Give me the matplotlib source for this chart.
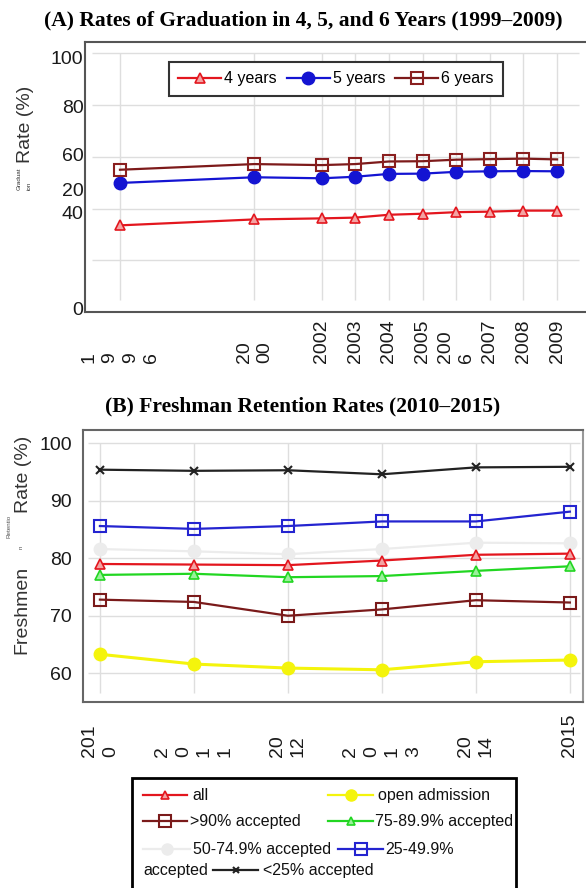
import matplotlib
matplotlib.use("Agg")
import matplotlib.pyplot as plt
from matplotlib.lines import Line2D
from matplotlib.patches import Rectangle

# ---- data ----
grad_years = [1996, 2000, 2002, 2003, 2004, 2005, 2006, 2007, 2008, 2009]
grad_year_labels = ["1\n9\n9\n6", "20\n00", "2002", "2003", "2004", "2005",
                    "200\n6", "2007", "2008", "2009"]
four_years = [33.5, 35.8, 36.2, 36.5, 37.6, 38.0, 38.6, 38.8, 39.2, 39.2]
five_years = [49.9, 52.1, 51.7, 52.3, 53.4, 53.5, 54.2, 54.4, 54.5, 54.4]
six_years = [55.0, 57.2, 56.8, 57.2, 58.2, 58.3, 58.9, 59.1, 59.3, 59.0]
grad_grid = [20, 40, 60, 80, 100]
# the y labels sit where the reference drew them (the "20" is out of place)
grad_ytick_pos = [1.5, 38.5, 47.5, 61, 79.5, 98.5]
grad_ytick_labels = ["0", "40", "20", "60", "80", "100"]

ret_years = [2010, 2011, 2012, 2013, 2014, 2015]
ret_year_labels = ["201\n0", "2\n0\n1\n1", "20\n12", "2\n0\n1\n3", "20\n14", "2015"]
ret_all = [79.0, 78.9, 78.8, 79.6, 80.6, 80.8]
ret_open = [63.3, 61.6, 60.9, 60.6, 62.0, 62.3]
ret_gt90 = [72.8, 72.4, 70.0, 71.1, 72.7, 72.3]
ret_75_89 = [77.1, 77.3, 76.7, 76.9, 77.8, 78.6]
ret_50_74 = [81.6, 81.2, 80.7, 81.6, 82.7, 82.6]
ret_25_49 = [85.6, 85.1, 85.6, 86.4, 86.4, 88.1]
ret_lt25 = [95.4, 95.2, 95.3, 94.6, 95.8, 95.9]
ret_grid = [60, 70, 80, 90, 100]

W, H = 586, 888


def fx(px):
    return px / W


def fy(py):
    return 1 - py / H


SANS = ["Liberation Sans", "DejaVu Sans"]
plt.rcParams["font.family"] = SANS

fig = plt.figure(figsize=(W / 100, H / 100), dpi=100)
fig.patch.set_facecolor("white")

# ---------------- panel A ----------------
axA = fig.add_axes([fx(85), fy(312), (W - 85) / W, (312 - 42) / H])
axA.set_xlim(1994.96, 2009.86)
axA.set_ylim(0, 104.4)
axA.hlines(grad_grid, 1995.17, 2009.64, color="#dedede", lw=1, zorder=0)
axA.vlines(grad_years, 4.6, 100, color="#dedede", lw=1, zorder=0)

styA = {
    "4 years": dict(color="#e3161e", marker="^", ms=7, mfc="#f3a3a3", mec="#e3161e", mew=1.2),
    "5 years": dict(color="#1414d2", marker="o", ms=9, mfc="#1414d2", mec="#1414d2"),
    "6 years": dict(color="#7d1a1a", marker="s", ms=9, mfc="none", mec="#8a1f1f", mew=1.5),
}
for name, vals in [("4 years", four_years), ("5 years", five_years), ("6 years", six_years)]:
    axA.plot(grad_years, vals, lw=1.6, label=name, **styA[name])

axA.set_yticks(grad_ytick_pos, grad_ytick_labels)
axA.set_xticks([])
axA.tick_params(axis="y", length=0, pad=1, labelsize=14, labelcolor="#1a1a1a")
for side in ["left", "bottom", "top"]:
    axA.spines[side].set_color("#555")
    axA.spines[side].set_linewidth(1.5)
axA.spines["right"].set_visible(False)
for yr, lab in zip(grad_years, grad_year_labels):
    axA.text(yr, -0.189, lab, transform=axA.get_xaxis_transform(), rotation=90,
             ha="center", va="bottom", multialignment="left", fontsize=14,
             linespacing=1.3, color="#1a1a1a")

legA = axA.legend(loc="center", bbox_to_anchor=(fx(336), fy(79)),
                  bbox_transform=fig.transFigure, ncol=3, fontsize=11.5,
                  handlelength=2.7, handletextpad=0.2, columnspacing=0.6,
                  borderpad=0.6, fancybox=False, framealpha=1, edgecolor="#333")
legA.get_frame().set_linewidth(1.5)

fig.text(fx(303), fy(20), "(A) Rates of Graduation in 4, 5, and 6 Years (1999\u20132009)",
         ha="center", va="center", fontfamily="Liberation Serif", fontweight="bold",
         fontsize=15.5)
fig.text(fx(25), fy(124), "Rate (%)", rotation=90, ha="center", va="center",
         fontsize=14, color="#333")
fig.text(fx(24), fy(179), "Graduat\nion", rotation=90, ha="center", va="center",
         fontsize=4.5, linespacing=2.2, multialignment="left", color="#333")

# ---------------- panel B ----------------
axB = fig.add_axes([fx(83), fy(702), (583 - 83) / W, (702 - 430) / H])
axB.set_xlim(2009.82, 2015.14)
axB.set_ylim(55.0, 102.3)
axB.hlines(ret_grid, 2009.873, 2015.107, color="#dedede", lw=1, zorder=0)
axB.vlines(ret_years, 56.5, 100, color="#dedede", lw=1, zorder=0)

styB = {
    "all": dict(color="#e3161e", marker="^", ms=7, mfc="#f3a3a3", mec="#e3161e", mew=1.2),
    "open admission": dict(color="#f4f40c", marker="o", ms=9, mfc="#f4f40c", mec="#f4f40c"),
    ">90% accepted": dict(color="#7a1a1a", marker="s", ms=9, mfc="none", mec="#7a1a1a", mew=1.5),
    "75-89.9% accepted": dict(color="#22d622", marker="^", ms=7, mfc="#9af09a", mec="#22d622", mew=1.2),
    "50-74.9% accepted": dict(color="#ececec", marker="o", ms=9, mfc="#ececec", mec="#ececec"),
    "25-49.9% accepted": dict(color="#2424d0", marker="s", ms=9, mfc="none", mec="#2424d0", mew=1.5),
    "<25% accepted": dict(color="#222222", marker="x", ms=6, mec="#222222", mew=1.5),
}
seriesB = [("50-74.9% accepted", ret_50_74), ("open admission", ret_open),
           (">90% accepted", ret_gt90), ("75-89.9% accepted", ret_75_89),
           ("all", ret_all), ("25-49.9% accepted", ret_25_49), ("<25% accepted", ret_lt25)]
for name, vals in seriesB:
    lw = 2.2 if name == "open admission" else 1.6
    axB.plot(ret_years, vals, lw=lw, **styB[name])

axB.set_yticks(ret_grid)
axB.set_xticks([])
axB.tick_params(axis="y", length=0, pad=8, labelsize=14, labelcolor="#1a1a1a")
for side in ["left", "bottom", "top", "right"]:
    axB.spines[side].set_color("#666")
    axB.spines[side].set_linewidth(1.5)
axB.spines["right"].set_color("#999")
for yr, lab in zip(ret_years, ret_year_labels):
    axB.text(yr, -0.202, lab, transform=axB.get_xaxis_transform(), rotation=90,
             ha="center", va="bottom", multialignment="left", fontsize=14,
             linespacing=1.3, color="#1a1a1a")

fig.text(fx(303), fy(406), "(B) Freshman Retention Rates (2010\u20132015)",
         ha="center", va="center", fontfamily="Liberation Serif", fontweight="bold",
         fontsize=15.5)
fig.text(fx(23), fy(474), "Rate (%)", rotation=90, ha="center", va="center",
         fontsize=14, color="#333")
fig.text(fx(22), fy(610), "Freshmen", rotation=90, ha="center", va="center",
         fontsize=14, color="#333")
fig.text(fx(9), fy(526), "Retentio", rotation=90, ha="center", va="center",
         fontsize=4.5, color="#555")
fig.text(fx(21), fy(547), "n", rotation=90, ha="center", va="center",
         fontsize=4.5, color="#555")

# legend of panel B, laid out like the wrapped legend in the reference
fig.add_artist(Rectangle((fx(132), fy(900)), (516 - 132) / W, (900 - 778) / H,
                         transform=fig.transFigure, fill=True, facecolor="white",
                         edgecolor="black", lw=2, clip_on=False))
legend_rows = [795, 821, 849, 870]
legend_items = [
    ("all", "all", 143, 187, 192, 0),
    ("open admission", "open admission", 328, 373, 378, 0),
    (">90% accepted", ">90% accepted", 143, 187, 190, 1),
    ("75-89.9% accepted", "75-89.9% accepted", 328, 373, 375, 1),
    ("50-74.9% accepted", "50-74.9% accepted", 143, 190, 193, 2),
    ("25-49.9% accepted", "25-49.9%", 338, 383, 385, 2),
    ("<25% accepted", "<25% accepted", 213, 258, 263, 3),
]
for key, text, x0, x1, tx, row in legend_items:
    st = dict(styB[key])
    col = st.pop("color")
    yy = fy(legend_rows[row])
    fig.add_artist(Line2D([fx(x0), fx(x1)], [yy, yy], color=col, lw=1.6,
                          transform=fig.transFigure))
    st["ms"] = st["ms"] - 1
    fig.add_artist(Line2D([fx((x0 + x1) / 2)], [yy], lw=0, transform=fig.transFigure, **st))
    fig.text(fx(tx), yy, text, ha="left", va="center", fontsize=11.5, color="#111")
fig.text(fx(143), fy(legend_rows[3]), "accepted", ha="left", va="center",
         fontsize=11.5, color="#111")

fig.savefig("out.png", dpi=100, facecolor="white")
